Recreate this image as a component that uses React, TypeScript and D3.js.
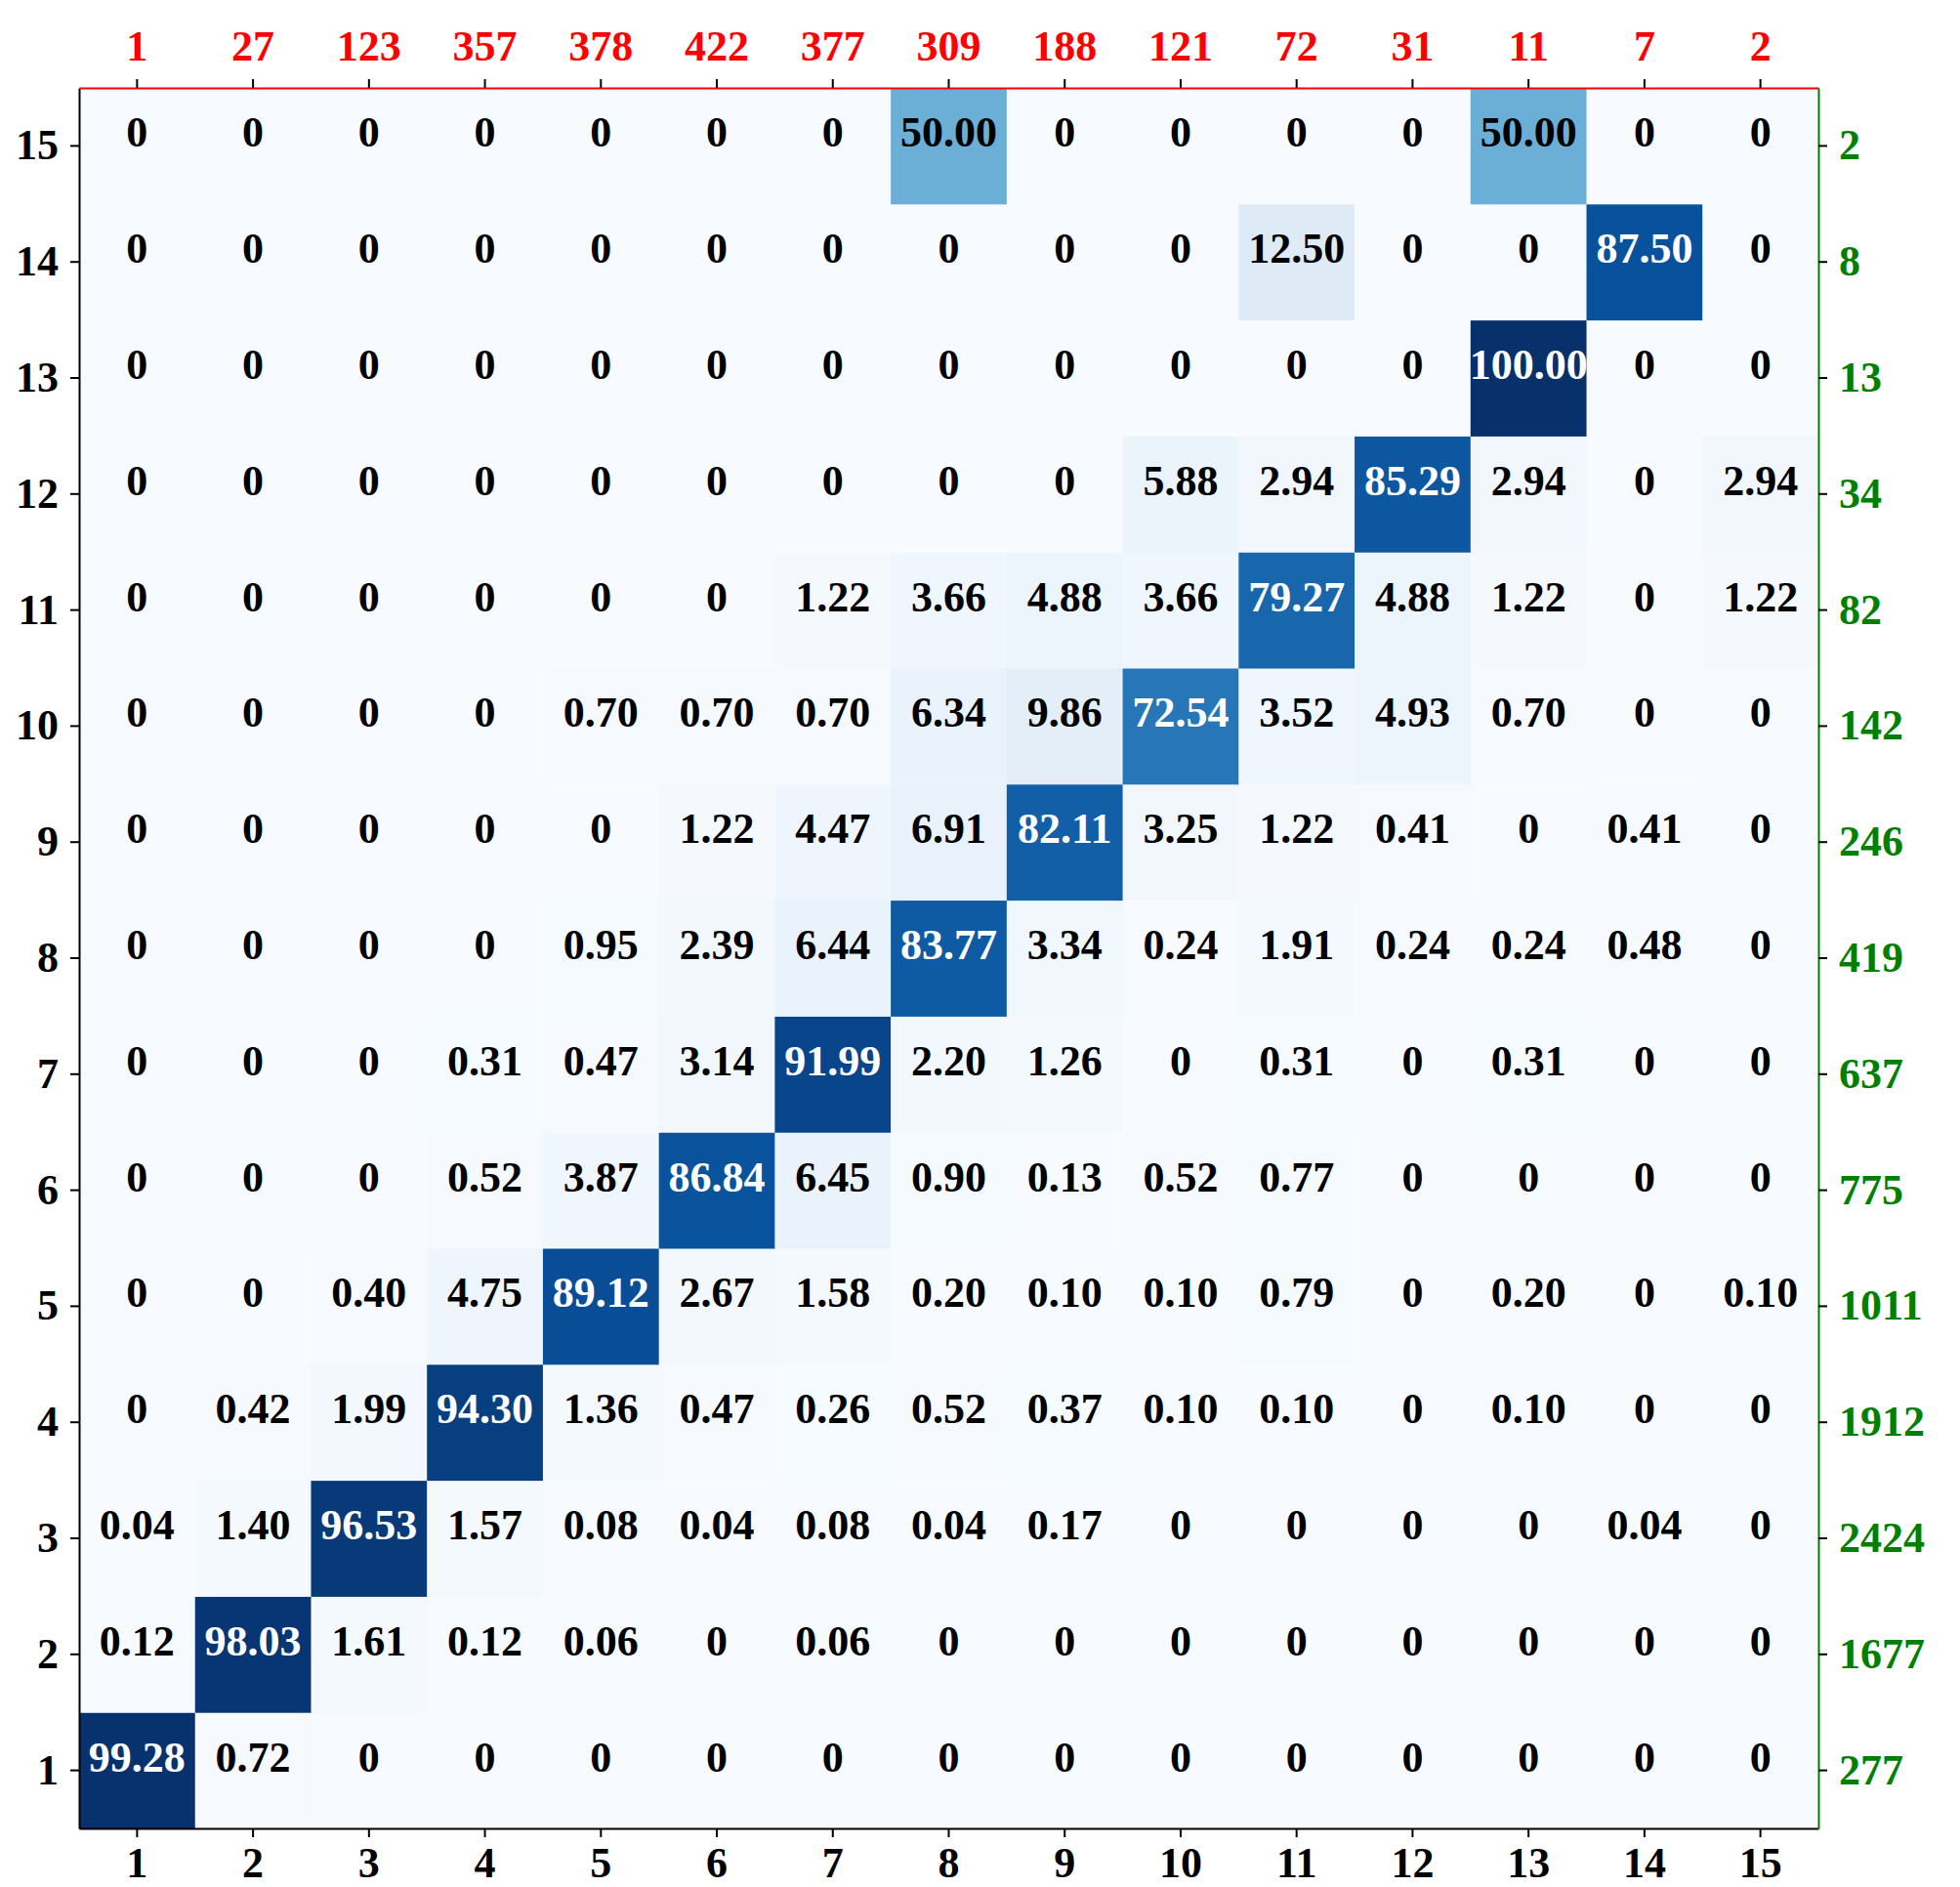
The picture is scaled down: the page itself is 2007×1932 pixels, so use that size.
import React, { useEffect, useRef } from "react";
import * as d3 from "d3";

// class ids, rows listed from bottom (1) to top (15)
const classes = d3.range(1, 16);

// column totals shown along the top (red)
const colTotals = [1, 27, 123, 357, 378, 422, 377, 309, 188, 121, 72, 31, 11, 7, 2];

// row totals shown on the right (green), row 1 first
const rowTotals = [277, 1677, 2424, 1912, 1011, 775, 637, 419, 246, 142, 82, 34, 13, 8, 2];

// percentages per row, row 1 first
const row1 = [99.28, 0.72, 0, 0, 0, 0, 0, 0, 0, 0, 0, 0, 0, 0, 0];
const row2 = [0.12, 98.03, 1.61, 0.12, 0.06, 0, 0.06, 0, 0, 0, 0, 0, 0, 0, 0];
const row3 = [0.04, 1.4, 96.53, 1.57, 0.08, 0.04, 0.08, 0.04, 0.17, 0, 0, 0, 0, 0.04, 0];
const row4 = [0, 0.42, 1.99, 94.3, 1.36, 0.47, 0.26, 0.52, 0.37, 0.1, 0.1, 0, 0.1, 0, 0];
const row5 = [0, 0, 0.4, 4.75, 89.12, 2.67, 1.58, 0.2, 0.1, 0.1, 0.79, 0, 0.2, 0, 0.1];
const row6 = [0, 0, 0, 0.52, 3.87, 86.84, 6.45, 0.9, 0.13, 0.52, 0.77, 0, 0, 0, 0];
const row7 = [0, 0, 0, 0.31, 0.47, 3.14, 91.99, 2.2, 1.26, 0, 0.31, 0, 0.31, 0, 0];
const row8 = [0, 0, 0, 0, 0.95, 2.39, 6.44, 83.77, 3.34, 0.24, 1.91, 0.24, 0.24, 0.48, 0];
const row9 = [0, 0, 0, 0, 0, 1.22, 4.47, 6.91, 82.11, 3.25, 1.22, 0.41, 0, 0.41, 0];
const row10 = [0, 0, 0, 0, 0.7, 0.7, 0.7, 6.34, 9.86, 72.54, 3.52, 4.93, 0.7, 0, 0];
const row11 = [0, 0, 0, 0, 0, 0, 1.22, 3.66, 4.88, 3.66, 79.27, 4.88, 1.22, 0, 1.22];
const row12 = [0, 0, 0, 0, 0, 0, 0, 0, 0, 5.88, 2.94, 85.29, 2.94, 0, 2.94];
const row13 = [0, 0, 0, 0, 0, 0, 0, 0, 0, 0, 0, 0, 100, 0, 0];
const row14 = [0, 0, 0, 0, 0, 0, 0, 0, 0, 0, 12.5, 0, 0, 87.5, 0];
const row15 = [0, 0, 0, 0, 0, 0, 0, 50, 0, 0, 0, 0, 50, 0, 0];

const rows = [row1, row2, row3, row4, row5, row6, row7, row8, row9, row10, row11, row12, row13, row14, row15];

const W = 2007;
const H = 1932;
const FONT = "'Liberation Serif', 'Times New Roman', serif";

export default function App() {
  const ref = useRef<SVGSVGElement>(null);

  useEffect(() => {
    const svg = d3.select(ref.current);
    svg.selectAll("*").remove();

    const left = 81;
    const right = 1862;
    const top = 90;
    const bottom = 1872;

    const x = d3.scaleBand<number>().domain(classes).range([left, right]);
    const y = d3.scaleBand<number>().domain(classes).range([bottom, top]);

    // matplotlib "Blues" is a linear ramp through the 9 brewer colours
    const color = d3
      .scaleLinear<string>()
      .domain(d3.range(9).map((i) => (i * 100) / 8))
      .range(d3.schemeBlues[9])
      .clamp(true);

    const cells = rows.flatMap((vals, r) =>
      vals.map((v, c) => ({ row: r + 1, col: c + 1, v }))
    );

    svg
      .append("g")
      .selectAll("rect")
      .data(cells)
      .join("rect")
      .attr("x", (d) => x(d.col)!)
      .attr("y", (d) => y(d.row)!)
      .attr("width", x.bandwidth() + 0.5)
      .attr("height", y.bandwidth() + 0.5)
      .attr("fill", (d) => color(d.v));

    // annotations: baseline sits on the cell centre
    svg
      .append("g")
      .selectAll("text")
      .data(cells)
      .join("text")
      .attr("x", (d) => x(d.col)! + x.bandwidth() / 2)
      .attr("y", (d) => y(d.row)! + y.bandwidth() / 2 + 1)
      .attr("text-anchor", "middle")
      .attr("font-family", FONT)
      .attr("font-weight", "bold")
      .attr("font-size", 44)
      .attr("fill", (d) => (d.v > 50 ? "white" : "black"))
      .text((d) => (d.v === 0 ? "0" : d.v.toFixed(2)));

    const styleAxis = (g: any, spine: string, labels: string) => {
      g.select(".domain").attr("stroke", spine).attr("stroke-width", 2);
      g.selectAll(".tick line").attr("stroke", "black").attr("stroke-width", 2);
      g.selectAll(".tick text")
        .attr("fill", labels)
        .attr("font-family", FONT)
        .attr("font-weight", "bold")
        .attr("font-size", 44);
    };

    // bottom axis
    svg
      .append("g")
      .attr("transform", `translate(0,${bottom})`)
      .call(d3.axisBottom(x).tickSize(9).tickSizeOuter(0).tickPadding(10))
      .call((g) => styleAxis(g, "black", "black"));

    // left axis
    svg
      .append("g")
      .attr("transform", `translate(${left},0)`)
      .call(d3.axisLeft(y).tickSize(9).tickSizeOuter(0).tickPadding(12))
      .call((g) => styleAxis(g, "black", "black"));

    // top axis: column totals
    svg
      .append("g")
      .attr("transform", `translate(0,${top})`)
      .call(
        d3
          .axisTop(x)
          .tickSize(9)
          .tickSizeOuter(0)
          .tickPadding(19)
          .tickFormat((d) => String(colTotals[d - 1]))
      )
      .call((g) => styleAxis(g, "red", "red"));

    // right axis: row totals
    svg
      .append("g")
      .attr("transform", `translate(${right},0)`)
      .call(
        d3
          .axisRight(y)
          .tickSize(9)
          .tickSizeOuter(0)
          .tickPadding(12)
          .tickFormat((d) => String(rowTotals[d - 1]))
      )
      .call((g) => styleAxis(g, "green", "green"));
  }, []);

  return (
    <svg
      ref={ref}
      width={W}
      height={H}
      style={{ position: "absolute", left: 0, top: 0, background: "white" }}
    />
  );
}
